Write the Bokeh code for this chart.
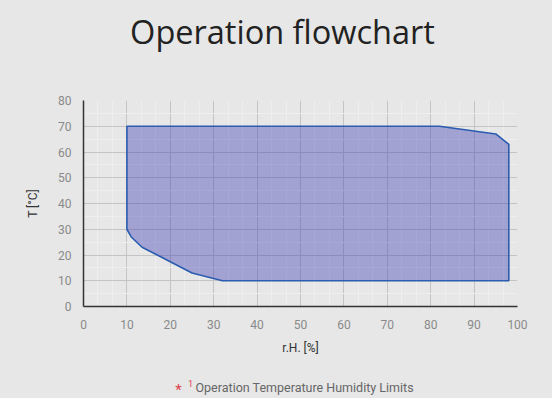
from bokeh.plotting import figure
from bokeh.layouts import column
from bokeh.models import SingleIntervalTicker, Range1d
from bokeh.core.properties import value
from bokeh.embed import file_html
from bokeh.resources import INLINE

# Operation envelope (r.H. [%], T [°C])
rh = [10, 82, 95, 98, 98, 32, 25, 21, 17, 13.5, 11, 10]
temp = [70, 70, 67, 63, 10, 10, 13, 16.5, 20, 23, 27, 30]

x_ticks = [0, 10, 20, 30, 40, 50, 60, 70, 80, 90, 100]
y_ticks = [0, 10, 20, 30, 40, 50, 60, 70, 80]

title_text = "Operation flowchart"
x_label = "r.H. [%]"
y_label = "T [°C]"
legend_marker = "*"
legend_sup = "1"
legend_text = "Operation Temperature Humidity Limits"

BG = "#e6e7e6"
W = 552
BL, BR = 83, 35   # side borders shared by all stacked figures


def blank(height):
    f = figure(width=W, height=height, output_backend="svg", toolbar_location=None,
               x_range=Range1d(BL, W - BR), y_range=Range1d(0, height),
               min_border_left=BL, min_border_right=BR,
               min_border_top=0, min_border_bottom=0)
    f.axis.visible = False
    f.grid.visible = False
    f.outline_line_color = None
    f.border_fill_color = BG
    f.background_fill_color = BG
    return f


# title strip
tf = blank(80)
tf.text(x=[282], y=[49], text=[title_text], text_font=value("Open Sans"),
        text_font_size="32.5px", text_color="#222222", text_align="center",
        text_baseline="alphabetic")

# main chart
p = figure(width=W, height=280, output_backend="svg", toolbar_location=None,
           x_range=Range1d(x_ticks[0], x_ticks[-1]), y_range=Range1d(y_ticks[0], y_ticks[-1]),
           min_border_left=BL, min_border_right=BR, min_border_top=20, min_border_bottom=54)
p.border_fill_color = BG
p.background_fill_color = BG
p.outline_line_color = None

p.patch(rh + [rh[0]], temp + [temp[0]], fill_color="#3b3bb3", fill_alpha=0.4,
        line_color="#2a5cb0", line_width=1.6)

p.xaxis.ticker = SingleIntervalTicker(interval=10, num_minor_ticks=3)
p.yaxis.ticker = SingleIntervalTicker(interval=10, num_minor_ticks=2)

for ax in (p.xaxis, p.yaxis):
    ax.axis_line_color = "#333333"
    ax.axis_line_width = 1.5
    ax.major_tick_line_color = None
    ax.minor_tick_line_color = None
    ax.major_label_text_font = "Roboto"
    ax.major_label_text_font_size = "12px"
    ax.major_label_text_color = "#8a8a8a"
    ax.axis_label_text_font = "Roboto"
    ax.axis_label_text_font_size = "12px"
    ax.axis_label_text_font_style = "normal"
    ax.axis_label_text_color = "#333333"

p.xaxis.axis_label = x_label
p.yaxis.axis_label = y_label
p.xaxis.major_label_standoff = 7
p.yaxis.major_label_standoff = 6
p.xaxis.axis_label_standoff = 9
p.yaxis.axis_label_standoff = 15

for g in (p.xgrid, p.ygrid):
    g.grid_line_color = "#c4c4c4"
    g.grid_line_width = 1
    g.minor_grid_line_color = "#eeeeee"
    g.minor_grid_line_width = 1

# footnote strip
ff = blank(38)
ff.text(x=[178], y=[9], text=[legend_marker], text_font=value("Roboto"),
        text_font_size="15px", text_color="#e0404a", text_align="center",
        text_baseline="middle")
ff.text(x=[190], y=[15], text=[legend_sup], text_font=value("Roboto"),
        text_font_size="9px", text_color="#e0404a", text_align="center",
        text_baseline="middle")
ff.text(x=[195], y=[11], text=[legend_text], text_font=value("Roboto"),
        text_font_size="12.5px", text_color="#666666", text_align="left",
        text_baseline="middle")

layout = column(tf, p, ff, spacing=0, styles={"background-color": BG})
open("out.html", "w").write(file_html(layout, INLINE))
